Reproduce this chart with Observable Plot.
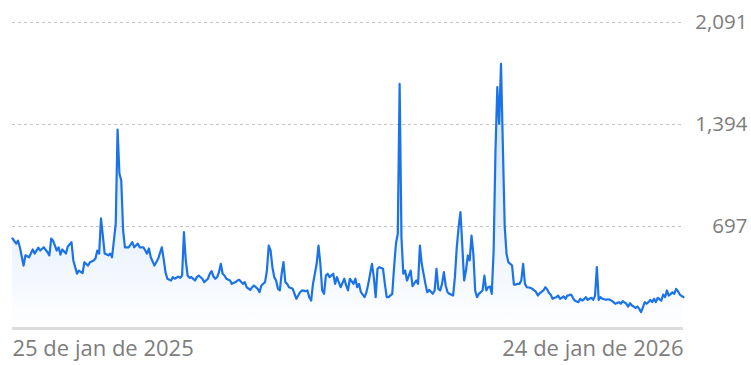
<!DOCTYPE html>
<html>
<head>
<meta charset="utf-8">
<script src="https://cdn.jsdelivr.net/npm/d3@7"></script>
<script src="https://cdn.jsdelivr.net/npm/@observablehq/plot@0.6"></script>
<style>
  html, body { margin: 0; padding: 0; background: #fff; }
  #chart svg { display: block; }
</style>
</head>
<body>
<div id="chart"></div>
<script>
// Day offsets from 25 Jan 2025 and the values
const startDate = [2025, 0, 25];
const days = [
  0,2,3,4,6,7,9,11,12,14,15,17,19,20,21,22,24,25,26,27,29,30,32,33,35,36,38,39,41,42,44,45,46,47,48,49,50,52,53,54,56,57,58,59,60,61,63,65,66,68,69,
  71,73,74,75,77,78,79,81,82,83,84,86,87,88,90,91,92,93,94,95,96,97,99,100,101,103,104,106,107,108,109,110,111,112,113,114,115,116,118,119,121,122,123,125,126,127,129,130,131,133,134,135,137,138,139,140,141,142,143,144,145,
  146,147,148,149,150,152,153,154,156,157,159,160,161,162,163,165,166,167,168,169,170,171,172,174,175,176,177,178,180,181,182,183,185,186,187,188,189,191,192,193,195,196,197,198,199,201,202,203,204,206,207,208,209,210,211,212,213,214,215,216,
  217,219,220,221,222,224,225,226,228,229,230,231,232,233,234,235,236,237,239,240,241,242,243,244,245,246,247,248,249,250,251,252,253,255,256,257,258,259,260,261,262,263,264,265,266,267,268,269,270,271,272,273,274,275,276,277,278,279,280,281,282,283,284,285,286,287,288,
  289,290,291,292,293,294,295,296,297,298,299,300,301,302,303,304,305,306,307,308,309,310,311,312,313,314,315,316,317,318,319,320,321,322,323,324,325,326,327,328,329,330,331,332,333,334,335,336,337,338,339,340,341,342,343,344,345,346,347,348,349,350,351,352,353,354,355,356,357,358,359,360,361,362,363,364
];
const values = [
  615,580,600,555,430,500,487,540,512,553,533,555,521,500,615,600,533,555,505,540,512,560,590,465,375,396,378,453,430,453,465,478,533,512,752,635,512,500,512,487,717,1360,1059,1011,670,555,555,590,555,580,555,
  555,512,547,487,430,453,476,555,476,385,340,328,351,340,355,346,362,658,465,362,346,351,328,351,362,340,317,340,374,392,355,340,351,385,442,374,362,340,328,305,317,328,333,305,317,282,264,282,294,271,248,294,317,396,567,533,419,351,328,271,260,
  374,453,317,305,282,271,237,203,248,260,255,260,214,191,305,442,567,442,260,237,362,374,351,374,305,351,317,282,340,294,260,340,305,340,282,305,248,214,248,305,442,351,214,408,419,408,305,214,214,237,419,579,647,1672,624,374,396,328,362,396,
  290,328,305,567,442,305,248,264,237,260,408,271,260,305,385,294,248,237,225,351,555,692,795,567,328,396,499,465,635,510,260,214,237,260,362,260,282,287,237,533,1216,1649,1400,1809,1250,700,510,453,442,430,300,300,305,305,328,442,305,282,280,278,271,260,250,225,241,250,260,
  282,268,243,230,203,210,214,225,203,210,219,203,225,228,232,210,191,185,180,203,191,200,214,196,203,210,196,225,419,196,214,203,200,196,200,196,190,180,169,175,180,169,187,178,169,150,173,157,150,141,150,134,112,146,180,169,180,196,180,203,180,210,200,191,232,214,260,225,235,248,237,271,255,232,222,214
];
const yTicks = [697, 1394, 2091];
const xLabels = ["25 de jan de 2025", "24 de jan de 2026"];
const xLabelDays = [0, 364];

const toDate = d => new Date(Date.UTC(startDate[0], startDate[1], startDate[2] + d));
const data = days.map((d, i) => ({date: toDate(d), value: values[i]}));
const labelData = xLabels.map((t, i) => ({date: toDate(xLabelDays[i]), text: t}));

const lineColor = "#1a73e8";
const textColor = "#7d7d7d";

const chart = Plot.plot({
  width: 751,
  height: 365,
  marginLeft: 12,
  marginRight: 68,
  marginTop: 22,
  marginBottom: 37,
  style: {fontFamily: "'Open Sans', Roboto, sans-serif", background: "#fff"},
  x: {type: "utc", domain: [toDate(xLabelDays[0]), toDate(xLabelDays[1])], axis: null},
  y: {domain: [0, yTicks[2]]},
  marks: [
    Plot.gridY(yTicks, {stroke: "#c4c4c4", strokeOpacity: 1, strokeDasharray: "3,3", strokeWidth: 1}),
    Plot.areaY(data, {x: "date", y: "value", fill: "url(#areaGrad)"}),
    Plot.ruleY([0], {stroke: "#dcdcdc", strokeWidth: 3}),
    Plot.lineY(data, {x: "date", y: "value", stroke: lineColor, strokeWidth: 2.2, strokeLinejoin: "round"}),
    Plot.axisY(yTicks, {anchor: "right", tickSize: 0, tickPadding: 0, dx: 64, textAnchor: "end",
      tickFormat: d3.format(","), fontSize: 20.5, fill: textColor, label: null}),
    Plot.text([labelData[0]], {x: "date", text: "text", frameAnchor: "bottom", dy: 27, textAnchor: "start", fontSize: 22, fill: textColor}),
    Plot.text([labelData[1]], {x: "date", text: "text", frameAnchor: "bottom", dy: 27, textAnchor: "end", fontSize: 22, fill: textColor})
  ]
});

const defs = d3.select(chart).insert("defs", ":first-child");
const grad = defs.append("linearGradient").attr("id", "areaGrad").attr("x1", 0).attr("y1", 0).attr("x2", 0).attr("y2", 1);
grad.append("stop").attr("offset", "0%").attr("stop-color", lineColor).attr("stop-opacity", 0.22);
grad.append("stop").attr("offset", "65%").attr("stop-color", lineColor).attr("stop-opacity", 0.09);
grad.append("stop").attr("offset", "100%").attr("stop-color", lineColor).attr("stop-opacity", 0.0);

document.getElementById("chart").appendChild(chart);
</script>
</body>
</html>
